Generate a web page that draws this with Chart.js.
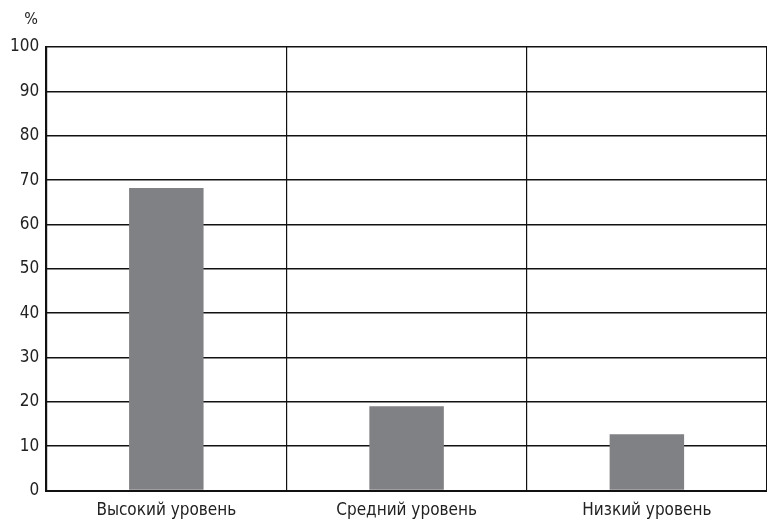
<!DOCTYPE html>
<html>
<head>
<meta charset="utf-8">
<style>
  html, body { margin: 0; padding: 0; background: #fff; }
  #wrap { width: 767px; height: 521px; }
</style>
<script src="https://cdn.jsdelivr.net/npm/chart.js@4/dist/chart.umd.min.js"></script>
</head>
<body>
<div id="wrap"><canvas id="grafico"></canvas></div>
<script>
// Datos del gráfico
const categorias = ['Высокий уровень', 'Средний уровень', 'Низкий уровень'];
const valores = [68.2, 19.0, 12.7];
const ticksY = [0, 10, 20, 30, 40, 50, 60, 70, 80, 90, 100];
const unidad = '%';

// fuente estrecha (font-stretch dentro del peso)
const fuente = "'DejaVu Sans Condensed', 'DejaVu Sans', sans-serif";
const peso = '400 condensed';

// "%" encima del eje Y
const unidadPlugin = {
    id: 'unidad',
    afterDraw(chart) {
        const { ctx, chartArea } = chart;
        ctx.save();
        ctx.font = peso + ' 16px ' + fuente;
        ctx.fillStyle = '#222';
        ctx.textAlign = 'center';
        ctx.textBaseline = 'middle';
        ctx.fillText(unidad, chartArea.left - 15, chartArea.top - 27);
        ctx.restore();
    }
};

const ctx = document.getElementById('grafico').getContext('2d');
new Chart(ctx, {
    type: 'bar',
    data: {
        labels: categorias,
        datasets: [{
            data: valores,
            backgroundColor: '#808184',
            borderWidth: 0,
            barPercentage: 0.31,
            categoryPercentage: 1
        }]
    },
    plugins: [unidadPlugin],
    options: {
        responsive: true,
        maintainAspectRatio: false,
        animation: false,
        layout: { padding: { left: 3, right: 0, top: 47, bottom: -10 } },
        plugins: {
            legend: { display: false },
            tooltip: { enabled: false }
        },
        scales: {
            x: {
                grid: {
                    // sin línea al borde derecho
                    color: c => c.index === 3 ? 'rgba(0,0,0,0)' : '#111',
                    lineWidth: 1.2, drawTicks: false, offset: true
                },
                border: { color: '#111', width: 2 },
                ticks: { color: '#222', font: { family: fuente, size: 17, weight: peso }, padding: 10 }
            },
            y: {
                min: 0,
                max: 100,
                afterBuildTicks: scale => {
                    scale.ticks = ticksY.map(v => ({ value: v }));
                },
                grid: { color: '#111', lineWidth: 1.5, drawTicks: false },
                border: { color: '#111', width: 2 },
                ticks: { color: '#222', font: { family: fuente, size: 17, weight: peso }, padding: 7 }
            }
        }
    }
});
</script>
</body>
</html>
